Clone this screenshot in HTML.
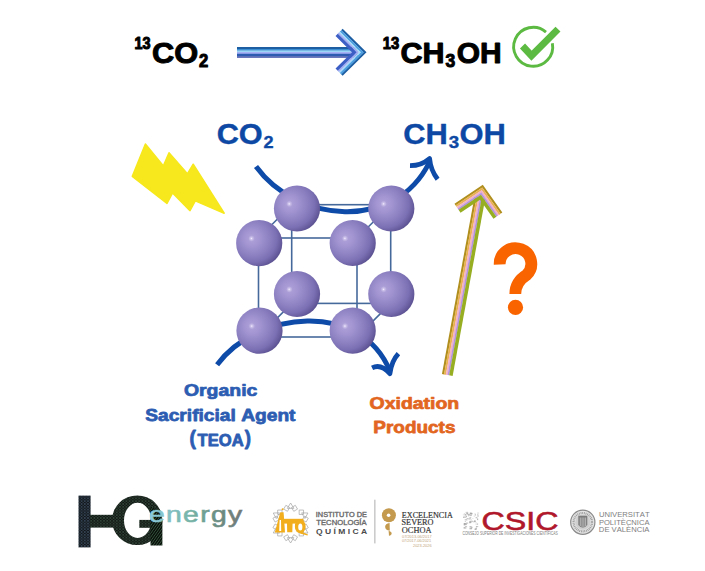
<!DOCTYPE html>
<html><head><meta charset="utf-8"><style>
html,body{margin:0;padding:0;background:#fff;width:705px;height:571px;overflow:hidden}
svg{display:block;font-kerning:none}
</style></head><body>
<svg width="705" height="571" viewBox="0 0 705 571">
<text transform="translate(134.49 49.25) scale(0.9189 1)" font-family='"Liberation Sans", sans-serif' font-weight="bold" font-size="15.68" fill="#000" stroke="#000" stroke-width="1.04" stroke-linejoin="round"  >13</text>
<text transform="translate(151.94 62.85) scale(1.0610 1)" font-family='"Liberation Sans", sans-serif' font-weight="bold" font-size="29.00" fill="#000" stroke="#000" stroke-width="0.97" stroke-linejoin="round"  >CO</text>
<text transform="translate(198.92 66.55) scale(0.8959 1)" font-family='"Liberation Sans", sans-serif' font-weight="bold" font-size="18.55" fill="#000" stroke="#000" stroke-width="1.05" stroke-linejoin="round"  >2</text>
<text transform="translate(382.67 49.25) scale(0.9108 1)" font-family='"Liberation Sans", sans-serif' font-weight="bold" font-size="16.26" fill="#000" stroke="#000" stroke-width="1.05" stroke-linejoin="round"  >13</text>
<text transform="translate(400.55 62.85) scale(1.0531 1)" font-family='"Liberation Sans", sans-serif' font-weight="bold" font-size="29.00" fill="#000" stroke="#000" stroke-width="0.97" stroke-linejoin="round"  >CH</text>
<text transform="translate(445.60 66.65) scale(0.9365 1)" font-family='"Liberation Sans", sans-serif' font-weight="bold" font-size="18.69" fill="#000" stroke="#000" stroke-width="1.03" stroke-linejoin="round"  >3</text>
<text transform="translate(456.77 62.85) scale(1.0332 1)" font-family='"Liberation Sans", sans-serif' font-weight="bold" font-size="29.00" fill="#000" stroke="#000" stroke-width="0.98" stroke-linejoin="round"  >OH</text>
<path d="M237.00 48.00 L358.00 48.00" stroke="#1d5ea2" stroke-width="2.15" fill="none" stroke-linejoin="miter" stroke-miterlimit="10"/><path d="M237.00 49.85 L358.00 49.85" stroke="#3c8fd2" stroke-width="1.85" fill="none" stroke-linejoin="miter" stroke-miterlimit="10"/><path d="M237.00 51.35 L358.00 51.35" stroke="#9cd6f6" stroke-width="1.45" fill="none" stroke-linejoin="miter" stroke-miterlimit="10"/><path d="M237.00 52.90 L358.00 52.90" stroke="#a6b0f4" stroke-width="1.95" fill="none" stroke-linejoin="miter" stroke-miterlimit="10"/><path d="M237.00 55.00 L358.00 55.00" stroke="#2d5bb2" stroke-width="2.55" fill="none" stroke-linejoin="miter" stroke-miterlimit="10"/><path d="M237.00 56.95 L358.00 56.95" stroke="#3a4ca6" stroke-width="1.65" fill="none" stroke-linejoin="miter" stroke-miterlimit="10"/>
<path d="M341.91 29.50 L365.00 52.30 L341.91 75.05" stroke="#1d5ea2" stroke-width="2.15" fill="none" stroke-linejoin="miter" stroke-miterlimit="10"/><path d="M340.51 30.93 L362.15 52.30 L340.50 73.62" stroke="#4a9ee0" stroke-width="2.15" fill="none" stroke-linejoin="miter" stroke-miterlimit="10"/><path d="M339.31 32.14 L359.73 52.30 L339.31 72.41" stroke="#a8dcf8" stroke-width="1.55" fill="none" stroke-linejoin="miter" stroke-miterlimit="10"/><path d="M338.26 33.20 L357.59 52.30 L338.26 71.35" stroke="#a4acf2" stroke-width="1.75" fill="none" stroke-linejoin="miter" stroke-miterlimit="10"/><path d="M336.64 34.84 L354.32 52.30 L336.64 69.71" stroke="#3c5fc6" stroke-width="3.15" fill="none" stroke-linejoin="miter" stroke-miterlimit="10"/>
<path d="M552.36 43.18 A19.5 19.5 0 1 1 545.99 32.08" fill="none" stroke="#5cba42" stroke-width="2.9"/>
<path d="M522.5 46 L531.5 55.6 L558 29.1" fill="none" stroke="#5cba42" stroke-width="7" stroke-linejoin="miter"/>
<text transform="translate(216.64 143.84) scale(1.0696 1)" font-family='"Liberation Sans", sans-serif' font-weight="bold" font-size="28.70" fill="#0c48a4" stroke="#0c48a4" stroke-width="0.39" stroke-linejoin="round"  >CO</text>
<text transform="translate(263.47 148.04) scale(1.0393 1)" font-family='"Liberation Sans", sans-serif' font-weight="bold" font-size="17.39" fill="#0c48a4" stroke="#0c48a4" stroke-width="0.39" stroke-linejoin="round"  >2</text>
<text transform="translate(403.34 143.94) scale(1.0587 1)" font-family='"Liberation Sans", sans-serif' font-weight="bold" font-size="29.13" fill="#0c48a4" stroke="#0c48a4" stroke-width="0.39" stroke-linejoin="round"  >CH</text>
<text transform="translate(448.87 147.94) scale(1.0850 1)" font-family='"Liberation Sans", sans-serif' font-weight="bold" font-size="17.24" fill="#0c48a4" stroke="#0c48a4" stroke-width="0.38" stroke-linejoin="round"  >3</text>
<text transform="translate(459.43 143.94) scale(1.0607 1)" font-family='"Liberation Sans", sans-serif' font-weight="bold" font-size="29.13" fill="#0c48a4" stroke="#0c48a4" stroke-width="0.39" stroke-linejoin="round"  >OH</text>
<polygon points="145.4,144 163.4,165.9 169,152.8 187.4,173.8 193.2,164.2 224.2,213.2 195.3,200.9 190,210.6 172.6,193 167,203.5 132.3,176.4" fill="#f6e81c" stroke="#f6e81c" stroke-width="1.5" stroke-linejoin="round"/>
<g fill="none" stroke="#46699c" stroke-width="1.6"><rect x="258.5" y="238" width="98.5" height="99"/><rect x="291.7" y="204.7" width="99.0" height="98.69999999999999"/><path d="M258.5 238 L291.7 204.7 M357 238 L390.7 204.7 M258.5 337 L291.7 303.4 M357 337 L390.7 303.4"/></g>
<path d="M256 166.5 C296.7 222.7 394.6 232 429 163" fill="none" stroke="#0e4aa8" stroke-width="5"/>
<path d="M410 165.7 Q421.2 165.8 429.6 158.6 Q430.6 170 437.6 179.2" fill="none" stroke="#0e4aa8" stroke-width="4.8" stroke-linejoin="round"/>
<path d="M217.1 364.7 C256.6 311.1 360.7 299.7 389.9 371" fill="none" stroke="#0e4aa8" stroke-width="5"/>
<path d="M372.1 367.8 Q381 363.5 389.9 373.6 Q391.5 361 398.4 353.6" fill="none" stroke="#0e4aa8" stroke-width="4.8" stroke-linejoin="round"/>
<defs><radialGradient id="sph" cx="0.38" cy="0.40" r="0.68" fx="0.33" fy="0.40">
<stop offset="0" stop-color="#f4f0ff"/>
<stop offset="0.035" stop-color="#cdc2ea"/>
<stop offset="0.1" stop-color="#ab9ed7"/>
<stop offset="0.35" stop-color="#9b8ecc"/>
<stop offset="0.55" stop-color="#8c80c1"/>
<stop offset="0.75" stop-color="#7b70b3"/>
<stop offset="0.9" stop-color="#655b9c"/>
<stop offset="0.97" stop-color="#584f8f"/>
<stop offset="1" stop-color="#605896"/>
</radialGradient></defs>
<circle cx="297.0" cy="208.5" r="23.1" fill="url(#sph)"/>
<circle cx="391.3" cy="208.5" r="23.1" fill="url(#sph)"/>
<circle cx="297.0" cy="294.0" r="23.1" fill="url(#sph)"/>
<circle cx="391.3" cy="294.0" r="23.1" fill="url(#sph)"/>
<circle cx="259.2" cy="243.1" r="23.1" fill="url(#sph)"/>
<circle cx="352.7" cy="243.0" r="23.1" fill="url(#sph)"/>
<circle cx="259.5" cy="330.7" r="23.1" fill="url(#sph)"/>
<circle cx="352.7" cy="330.7" r="23.1" fill="url(#sph)"/>
<path d="M443.02 374.21 L475.52 197.21" stroke="#b08f1e" stroke-width="2.15" fill="none" stroke-linejoin="miter" stroke-miterlimit="10"/><path d="M444.94 374.57 L477.44 197.57" stroke="#e9b252" stroke-width="2.05" fill="none" stroke-linejoin="miter" stroke-miterlimit="10"/><path d="M446.76 374.90 L479.26 197.90" stroke="#f1b2c8" stroke-width="1.95" fill="none" stroke-linejoin="miter" stroke-miterlimit="10"/><path d="M448.43 375.21 L480.93 198.21" stroke="#b393e0" stroke-width="1.75" fill="none" stroke-linejoin="miter" stroke-miterlimit="10"/><path d="M450.89 375.66 L483.39 198.66" stroke="#97ae22" stroke-width="3.55" fill="none" stroke-linejoin="miter" stroke-miterlimit="10"/>
<path d="M455.08 204.59 L482.52 186.22 L501.46 213.20" stroke="#b08f1e" stroke-width="2.15" fill="none" stroke-linejoin="miter" stroke-miterlimit="10"/><path d="M456.16 206.21 L482.02 188.90 L499.86 214.32" stroke="#e9b252" stroke-width="2.05" fill="none" stroke-linejoin="miter" stroke-miterlimit="10"/><path d="M457.19 207.74 L481.54 191.44 L498.35 215.38" stroke="#f1b2c8" stroke-width="1.95" fill="none" stroke-linejoin="miter" stroke-miterlimit="10"/><path d="M458.14 209.16 L481.11 193.78 L496.96 216.36" stroke="#b393e0" stroke-width="1.75" fill="none" stroke-linejoin="miter" stroke-miterlimit="10"/><path d="M459.53 211.23 L480.46 197.22 L494.91 217.80" stroke="#97ae22" stroke-width="3.55" fill="none" stroke-linejoin="miter" stroke-miterlimit="10"/>
<path d="M499.7 264.5 A15.8 15.6 0 1 1 526.5 275 Q515.3 282 515.3 294" fill="none" stroke="#f96400" stroke-width="11.8"/>
<circle cx="515.5" cy="307.4" r="7.6" fill="#f96400"/>
<text transform="translate(183.90 396.48) scale(1.1331 1)" font-family='"Liberation Sans", sans-serif' font-weight="bold" font-size="17.16" fill="#2c5db2" stroke="#2c5db2" stroke-width="0.75" stroke-linejoin="round"  >Organic</text>
<text transform="translate(145.25 421.48) scale(1.1186 1)" font-family='"Liberation Sans", sans-serif' font-weight="bold" font-size="17.16" fill="#2c5db2" stroke="#2c5db2" stroke-width="0.76" stroke-linejoin="round"  >Sacrificial Agent</text>
<text transform="translate(197.61 445.78) scale(1.0105 1)" font-family='"Liberation Sans", sans-serif' font-weight="bold" font-size="16.40" fill="#2c5db2" stroke="#2c5db2" stroke-width="0.80" stroke-linejoin="round"  >TEOA</text>
<text transform="translate(189.45 444.67) scale(0.9387 1)" font-family='"Liberation Sans", sans-serif' font-weight="bold" font-size="20.38" fill="#2c5db2" stroke="#2c5db2" stroke-width="0.83" stroke-linejoin="round">(</text>
<text transform="translate(244.78 444.67) scale(0.9213 1)" font-family='"Liberation Sans", sans-serif' font-weight="bold" font-size="20.38" fill="#2c5db2" stroke="#2c5db2" stroke-width="0.83" stroke-linejoin="round">)</text>
<text transform="translate(369.60 408.58) scale(1.1544 1)" font-family='"Liberation Sans", sans-serif' font-weight="bold" font-size="16.87" fill="#e2661f" stroke="#e2661f" stroke-width="0.74" stroke-linejoin="round"  >Oxidation</text>
<text transform="translate(373.33 432.68) scale(1.1070 1)" font-family='"Liberation Sans", sans-serif' font-weight="bold" font-size="17.12" fill="#e2661f" stroke="#e2661f" stroke-width="0.76" stroke-linejoin="round"  >Products</text>
<defs><pattern id="hex" width="3.2" height="2.8" patternUnits="userSpaceOnUse"><rect width="3.2" height="2.8" fill="#0a0d0c"/><circle cx="1.6" cy="1.4" r="1.15" fill="none" stroke="#4f7058" stroke-width="0.45"/></pattern><pattern id="hexb" width="3.2" height="2.8" patternUnits="userSpaceOnUse"><rect width="3.2" height="2.8" fill="#0a0c0f"/><circle cx="1.6" cy="1.4" r="1.15" fill="none" stroke="#55708a" stroke-width="0.45"/></pattern><pattern id="hatch" width="2.2" height="2.2" patternUnits="userSpaceOnUse" patternTransform="rotate(35)"><rect width="2.2" height="2.2" fill="#0c100d"/><rect width="0.6" height="2.2" fill="#3d6a48"/></pattern><linearGradient id="engr" x1="0" y1="0" x2="1" y2="0"><stop offset="0" stop-color="#8ccbdc"/><stop offset="0.45" stop-color="#76b3a6"/><stop offset="0.7" stop-color="#6b8f84"/><stop offset="1" stop-color="#737878"/></linearGradient></defs>
<rect x="78.5" y="495.6" width="12.1" height="51.8" fill="url(#hexb)"/>
<rect x="90" y="514.8" width="24" height="12.8" fill="url(#hex)"/>
<path fill-rule="evenodd" fill="url(#hex)" d="M112 520.2 A25.2 24.8 0 1 0 162.4 520.2 A25.2 24.8 0 1 0 112 520.2 Z M124 520.4 A13.6 17.6 0 1 0 151.2 520.4 A13.6 17.6 0 1 0 124 520.4 Z"/>
<path fill="url(#hex)" d="M139.3 519.9 H151.5 V527.8 H139.3 Z"/>
<path fill="url(#hatch)" d="M150.5 506 Q158 510 162.4 520.2 V545.5 H150.5 Z"/>
<text transform="translate(148.90 521.50) scale(1.2980 1)" font-family='"Liberation Sans", sans-serif' font-weight="normal" font-size="21.74" fill="url(#engr)"  letter-spacing="1.087" stroke="url(#engr)" stroke-width="0.6">energy</text>
<g fill="none" stroke="#a4a4a4" stroke-width="0.7"><polygon points="308.28,527.74 304.48,529.93 302.29,526.13 306.08,523.94"/><polygon points="303.54,535.94 299.16,535.94 299.16,531.56 303.54,531.56"/><polygon points="295.34,540.68 291.54,538.48 293.73,534.69 297.53,536.88"/><polygon points="285.86,540.68 283.67,536.88 287.47,534.69 289.66,538.48"/><polygon points="277.66,535.94 277.66,531.56 282.04,531.56 282.04,535.94"/><polygon points="272.92,527.74 275.12,523.94 278.91,526.13 276.72,529.93"/><polygon points="272.92,518.26 276.72,516.07 278.91,519.87 275.12,522.06"/><polygon points="277.66,510.06 282.04,510.06 282.04,514.44 277.66,514.44"/><polygon points="285.86,505.32 289.66,507.52 287.47,511.31 283.67,509.12"/><polygon points="295.34,505.32 297.53,509.12 293.73,511.31 291.54,507.52"/><polygon points="303.54,510.06 303.54,514.44 299.16,514.44 299.16,510.06"/><polygon points="308.28,518.26 306.08,522.06 302.29,519.87 304.48,516.07"/><polygon points="287.33,508.36 290.60,503.00 293.87,508.36"/><polygon points="301.64,512.85 307.92,513.00 304.91,518.52"/><polygon points="304.91,527.48 307.92,533.00 301.64,533.15"/><polygon points="293.87,537.64 290.60,543.00 287.33,537.64"/><polygon points="279.56,533.15 273.28,533.00 276.29,527.48"/><polygon points="276.29,518.52 273.28,513.00 279.56,512.85"/></g>
<g fill="#f2ae1c"><path d="M280.3 512.3 L283.6 512.3 L285 532.5 L274.8 532.5 Z"/><circle cx="282.6" cy="509.3" r="1"/><path d="M283.5 518.8 L303.5 518.8 L303.5 523.6 L283.5 523.6 Z"/><path d="M287 523 L292.6 523 L292.3 532.3 L287.2 532.3 Z"/><ellipse cx="300.2" cy="526.4" rx="5.4" ry="6.8"/><path d="M301 531.5 L308 534.6 L307.5 535.4 L300 533.5 Z"/></g>
<ellipse cx="300.3" cy="527" rx="2.1" ry="3.6" fill="#fff"/>
<path d="M279.6 520 L281 520 L281.2 531 L279.2 531 Z M285.4 524.2 L286.6 524.2 L286.8 532.6 L285.6 532.6 Z M293 524.2 L294.6 524.2 L294.8 532 L293.2 532 Z" fill="#fff"/>
<text transform="translate(315.79 516.85) scale(1.1352 1)" font-family='"Liberation Sans", sans-serif' font-weight="normal" font-size="6.50" fill="#6b6b6b" stroke="#6b6b6b" stroke-width="0.33" stroke-linejoin="round"  >INSTITUTO DE</text>
<text transform="translate(316.30 525.35) scale(1.0862 1)" font-family='"Liberation Sans", sans-serif' font-weight="normal" font-size="7.08" fill="#6b6b6b" stroke="#6b6b6b" stroke-width="0.34" stroke-linejoin="round"  >TECNOLOGÍA</text>
<text transform="translate(315.95 533.50) scale(1.2485 1)" font-family='"Liberation Sans", sans-serif' font-weight="bold" font-size="6.83" fill="#4b4b4b"   >Q U Í M I C A</text>
<rect x="374.5" y="499.7" width="0.8" height="43.7" fill="#9a9a9a"/>
<circle cx="388.9" cy="515.3" r="7" fill="#c39a4e"/><circle cx="388.6" cy="515.3" r="1.8" fill="#fff"/>
<path d="M389.6 523 C383.6 523.5 383.6 530.2 389.8 530.8 Z" fill="#c39a4e"/>
<path d="M388.6 531 C392.6 531.5 392.6 535.2 389 535.8 Z" fill="#c39a4e"/>
<text transform="translate(401.87 517.80) scale(0.9499 1)" font-family='"Liberation Serif", serif' font-weight="normal" font-size="8.55" fill="#363636"   stroke="#363636" stroke-width="0.2">EXCELENCIA</text>
<text transform="translate(401.55 525.40) scale(0.9792 1)" font-family='"Liberation Serif", serif' font-weight="normal" font-size="8.40" fill="#363636"   stroke="#363636" stroke-width="0.2">SEVERO</text>
<text transform="translate(401.76 533.10) scale(0.9148 1)" font-family='"Liberation Serif", serif' font-weight="normal" font-size="9.16" fill="#363636"   stroke="#363636" stroke-width="0.2">OCHOA</text>
<text transform="translate(401.95 537.80) scale(1.2486 1)" font-family='"Liberation Sans", sans-serif' font-weight="normal" font-size="3.15" fill="#bfa57a"   >07/2013-06/2017</text>
<text transform="translate(401.95 542.40) scale(1.0799 1)" font-family='"Liberation Sans", sans-serif' font-weight="normal" font-size="3.58" fill="#bfa57a"   >07/2017-06/2021</text>
<text transform="translate(413.00 547.10) scale(1.0903 1)" font-family='"Liberation Sans", sans-serif' font-weight="normal" font-size="3.58" fill="#bfa57a"   >2023-2026</text>
<g fill="#9c9c9c"><rect x="467.5" y="514.4" width="1.6" height="0.6" fill-opacity="0.62"/><rect x="468.1" y="512.8" width="1.4" height="0.5" fill-opacity="0.57"/><rect x="463.8" y="513.3" width="1.3" height="1.5" fill-opacity="0.41"/><rect x="466.1" y="522.5" width="2.1" height="1.2" fill-opacity="0.55"/><rect x="477.1" y="512.6" width="2.0" height="0.8" fill-opacity="0.42"/><rect x="464.5" y="517.0" width="1.9" height="0.7" fill-opacity="0.64"/><rect x="472.1" y="518.1" width="1.5" height="0.6" fill-opacity="0.38"/><rect x="465.8" y="523.4" width="1.3" height="0.9" fill-opacity="0.64"/><rect x="469.4" y="516.9" width="1.9" height="1.3" fill-opacity="0.47"/><rect x="471.2" y="520.7" width="2.0" height="1.4" fill-opacity="0.49"/><rect x="477.1" y="513.8" width="1.3" height="1.4" fill-opacity="0.43"/><rect x="469.9" y="512.5" width="1.7" height="1.4" fill-opacity="0.64"/><rect x="475.6" y="517.1" width="1.7" height="1.2" fill-opacity="0.64"/><rect x="469.5" y="526.1" width="2.1" height="1.1" fill-opacity="0.68"/><rect x="463.7" y="523.7" width="1.6" height="1.7" fill-opacity="0.76"/><rect x="467.0" y="518.4" width="1.7" height="0.5" fill-opacity="0.58"/><rect x="465.3" y="513.8" width="0.7" height="1.4" fill-opacity="0.41"/><rect x="466.4" y="518.4" width="2.0" height="0.6" fill-opacity="0.57"/><rect x="470.8" y="526.8" width="1.9" height="1.5" fill-opacity="0.49"/><rect x="468.9" y="517.9" width="2.0" height="1.6" fill-opacity="0.43"/><rect x="465.4" y="515.7" width="1.0" height="1.1" fill-opacity="0.64"/><rect x="466.6" y="511.9" width="1.3" height="0.9" fill-opacity="0.63"/><rect x="476.7" y="523.5" width="1.4" height="1.2" fill-opacity="0.69"/><rect x="463.6" y="527.1" width="1.8" height="1.5" fill-opacity="0.75"/><rect x="468.5" y="518.6" width="0.8" height="1.3" fill-opacity="0.38"/><rect x="463.8" y="515.3" width="0.9" height="0.9" fill-opacity="0.38"/><rect x="462.8" y="514.4" width="0.8" height="0.9" fill-opacity="0.36"/><rect x="475.6" y="522.2" width="0.8" height="0.8" fill-opacity="0.52"/><rect x="468.1" y="513.9" width="2.0" height="1.7" fill-opacity="0.58"/><rect x="469.9" y="513.3" width="0.8" height="0.9" fill-opacity="0.48"/><rect x="474.9" y="514.5" width="0.6" height="1.6" fill-opacity="0.61"/><rect x="464.9" y="521.0" width="0.6" height="1.1" fill-opacity="0.84"/><rect x="475.4" y="523.6" width="1.0" height="0.9" fill-opacity="0.43"/><rect x="474.1" y="520.9" width="1.8" height="0.9" fill-opacity="0.46"/><rect x="474.6" y="528.5" width="2.0" height="1.5" fill-opacity="0.76"/><rect x="473.6" y="515.7" width="1.4" height="0.9" fill-opacity="0.36"/><rect x="463.2" y="516.6" width="1.0" height="1.3" fill-opacity="0.83"/><rect x="469.3" y="527.7" width="2.2" height="1.6" fill-opacity="0.53"/><rect x="466.0" y="515.7" width="0.9" height="0.7" fill-opacity="0.66"/><rect x="475.9" y="526.1" width="1.4" height="1.3" fill-opacity="0.75"/><rect x="464.0" y="523.0" width="2.1" height="1.4" fill-opacity="0.73"/><rect x="469.8" y="514.8" width="1.9" height="0.9" fill-opacity="0.75"/><rect x="477.0" y="518.5" width="1.2" height="1.6" fill-opacity="0.71"/><rect x="465.3" y="514.0" width="0.8" height="1.6" fill-opacity="0.75"/><rect x="464.9" y="525.9" width="2.2" height="1.3" fill-opacity="0.53"/><rect x="470.8" y="514.0" width="0.6" height="1.7" fill-opacity="0.67"/><rect x="470.5" y="527.7" width="1.3" height="1.5" fill-opacity="0.76"/><rect x="465.9" y="516.1" width="1.1" height="0.8" fill-opacity="0.64"/><rect x="466.6" y="518.9" width="0.8" height="1.6" fill-opacity="0.53"/><rect x="469.5" y="521.7" width="2.0" height="1.0" fill-opacity="0.81"/><rect x="470.1" y="520.8" width="1.4" height="0.5" fill-opacity="0.57"/><rect x="465.5" y="511.9" width="1.9" height="0.7" fill-opacity="0.59"/><rect x="473.4" y="521.3" width="1.1" height="1.1" fill-opacity="0.63"/><rect x="474.3" y="513.6" width="1.5" height="0.8" fill-opacity="0.49"/><rect x="474.1" y="520.4" width="1.5" height="1.4" fill-opacity="0.81"/><rect x="469.3" y="522.2" width="1.4" height="1.1" fill-opacity="0.70"/><rect x="469.4" y="520.9" width="1.4" height="1.6" fill-opacity="0.70"/><rect x="475.6" y="527.8" width="1.0" height="1.2" fill-opacity="0.82"/><rect x="475.1" y="514.1" width="0.8" height="1.0" fill-opacity="0.39"/><rect x="466.3" y="513.0" width="1.7" height="1.4" fill-opacity="0.80"/><rect x="465.1" y="524.0" width="1.7" height="0.7" fill-opacity="0.79"/><rect x="476.9" y="515.5" width="2.1" height="1.0" fill-opacity="0.59"/><rect x="477.3" y="526.0" width="0.9" height="1.0" fill-opacity="0.61"/><rect x="467.8" y="515.1" width="1.1" height="1.4" fill-opacity="0.36"/><rect x="470.9" y="519.3" width="0.6" height="0.9" fill-opacity="0.66"/><rect x="470.3" y="512.9" width="2.2" height="1.4" fill-opacity="0.84"/><rect x="464.3" y="516.3" width="0.7" height="1.4" fill-opacity="0.49"/><rect x="464.7" y="519.0" width="2.1" height="1.5" fill-opacity="0.48"/><rect x="465.0" y="527.4" width="1.5" height="1.3" fill-opacity="0.39"/><rect x="463.6" y="523.5" width="1.3" height="0.6" fill-opacity="0.82"/></g>
<text transform="translate(481.57 529.50) scale(1.2619 1)" font-family='"Liberation Sans", sans-serif' font-weight="normal" font-size="25.49" fill="#b0172b"   stroke="#b0172b" stroke-width="0.6">CSIC</text>
<text transform="translate(462.43 534.80) scale(0.7474 1)" font-family='"Liberation Sans", sans-serif' font-weight="normal" font-size="4.58" fill="#7a7a7a"   >CONSEJO SUPERIOR DE INVESTIGACIONES CIENTÍFICAS</text>
<circle cx="582.8" cy="522.2" r="12.1" fill="#e4e4e4" stroke="#8a8a8a" stroke-width="1.2"/><circle cx="582.8" cy="522.2" r="9.2" fill="none" stroke="#9a9a9a" stroke-width="2.2" stroke-dasharray="0.9 0.8"/><circle cx="582.8" cy="522.2" r="7.6" fill="#cfcfcf"/><path d="M578.3 515.8 H587.3 V525 Q582.8 530.5 578.3 525 Z" fill="#7c7c7c"/><path d="M580.3 517.5 V526 M582.1 517.5 V527.5 M583.9 517.5 V527.5 M585.6 517.5 V526" stroke="#d0d0d0" stroke-width="0.7"/>
<text transform="translate(598.91 517.10) scale(1.1240 1)" font-family='"Liberation Sans", sans-serif' font-weight="normal" font-size="6.83" fill="#7e7e7e"   >UNIVERSITAT</text>
<text transform="translate(598.88 524.80) scale(1.0245 1)" font-family='"Liberation Sans", sans-serif' font-weight="normal" font-size="7.41" fill="#7e7e7e"   >POLITÈCNICA</text>
<text transform="translate(598.87 532.40) scale(1.0330 1)" font-family='"Liberation Sans", sans-serif' font-weight="normal" font-size="7.41" fill="#7e7e7e"   >DE VALÈNCIA</text>
</svg></body></html>
